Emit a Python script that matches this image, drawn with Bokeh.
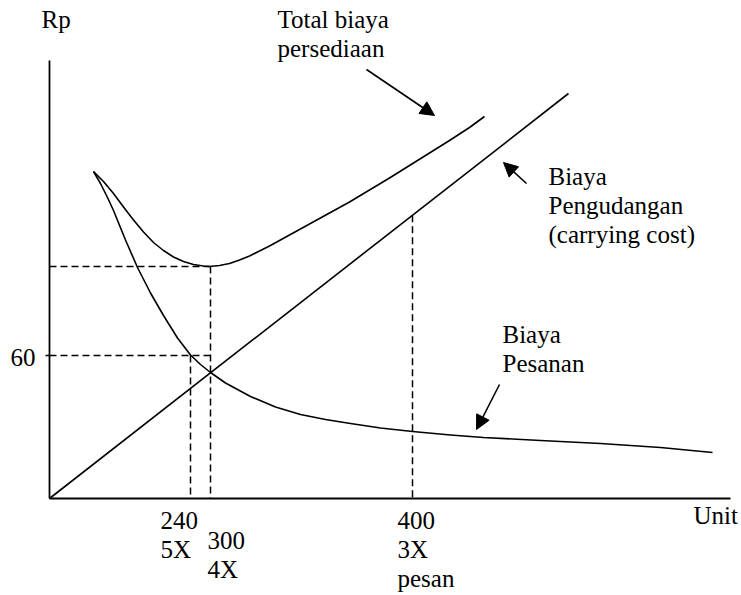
from bokeh.plotting import figure
from bokeh.models import Range1d, Arrow, NormalHead, ColumnDataSource
from bokeh.embed import file_html
from bokeh.resources import INLINE
from bokeh.core.properties import value

# ---------------- data (schematic diagram units: x = Unit, y = Rp) ----------------
carrying_x = [0, 519]
carrying_y = [0, 405]

ordering_x = [44, 51, 58, 64, 76, 88, 101, 114, 128, 141, 151, 161, 176, 201, 226,
              251, 276, 301, 331, 363, 401, 434, 491, 551, 611, 663]
ordering_y = [327, 315, 301, 288, 258.5, 231, 205.5, 183, 160.5, 143.5, 134, 126, 115.5,
              102, 91.5, 84, 79, 75, 70.5, 67, 63.5, 61, 58, 55, 51, 46]

total_x = [44, 54, 64, 74, 84, 94, 104, 114, 124, 134, 144, 154, 160, 170, 180, 190, 200,
           210, 220, 240, 260, 280, 300, 320, 340, 360, 380, 400, 420, 435]
total_y = [327, 317, 305, 291.5, 278.5, 266.5, 256, 248, 241.5, 237, 234, 232.5, 232, 233,
           235, 238.5, 242.5, 247.5, 252.5, 263.5, 274.5, 285.5, 296.5, 308.5, 320.5, 333,
           345.5, 358, 371, 382]

x_axis_max = 681
y_axis_max = 438

rp_tick = 143            # level labelled "60"
rp_tick_label = "60"
total_min_x = 161        # EOQ (300 / 4X)
total_min_y = 232

tick_x = [141, 161, 363]
tick_text = [["240", "5X"], ["300", "4X"], ["400", "3X", "pesan"]]

callout_lines = [["Total biaya", "persediaan"],
                 ["Biaya", "Pengudangan", "(carrying cost)"],
                 ["Biaya", "Pesanan"]]
callout_anchor = [(228, 471), (499, 314), (453, 156)]
# arrows: (x_start, y_start, x_end, y_end)
callout_arrows = [(317, 429, 385, 383), (477, 315, 454, 336), (450, 114, 427, 69)]

# ---------------- figure ----------------
FONT = value("Liberation Serif")
FS = "25px"
LH = 29
SHIFT = 8   # baseline correction for the text glyph

p = figure(width=741, height=595, x_range=Range1d(-49, 692), y_range=Range1d(-97, 498),
           output_backend="svg", toolbar_location=None, x_axis_type=None, y_axis_type=None,
           min_border=0, outline_line_color=None)
p.background_fill_color = "white"
p.border_fill_color = "white"

# axes
p.segment(x0=[0, 0], y0=[0, 0], x1=[x_axis_max, 0], y1=[0, y_axis_max],
          line_color="black", line_width=1.8)
# tick at 60
p.segment(x0=[-4], y0=[rp_tick], x1=[0], y1=[rp_tick], line_color="black", line_width=1.5)

# dashed guides
slope = carrying_y[1] / carrying_x[1]
dash_x0 = [0, total_min_x, 0, tick_x[0], tick_x[2]]
dash_y0 = [total_min_y, total_min_y, rp_tick, rp_tick, tick_x[2] * slope]
dash_x1 = [total_min_x, total_min_x, total_min_x, tick_x[0], tick_x[2]]
dash_y1 = [total_min_y, 0, rp_tick, 0, 0]
p.segment(x0=dash_x0, y0=dash_y0, x1=dash_x1, y1=dash_y1, line_color="black",
          line_width=1.5, line_dash="7 4")

# curves
p.line(carrying_x, carrying_y, line_color="black", line_width=1.6)
p.line(ordering_x, ordering_y, line_color="black", line_width=1.6, line_join="round")
p.line(total_x, total_y, line_color="black", line_width=1.6, line_join="round")

# arrows
for (xs, ys, xe, ye) in callout_arrows:
    p.add_layout(Arrow(end=NormalHead(size=14, fill_color="black", line_color="black",
                                      line_width=1),
                       x_start=xs, y_start=ys, x_end=xe, y_end=ye,
                       line_color="black", line_width=1.6))

# texts
tx, ty, tt, ta = [], [], [], []
for lines, (ax, ay) in zip(callout_lines, callout_anchor):
    for j, s in enumerate(lines):
        tx.append(ax); ty.append(ay - j * LH); tt.append(s); ta.append("left")
tick_dx = [-30, -3, -15]
tick_top = [30, 50, 30]
for xv, lines, dx, top in zip(tick_x, tick_text, tick_dx, tick_top):
    for j, s in enumerate(lines):
        tx.append(xv + dx); ty.append(-(top + j * LH)); tt.append(s); ta.append("left")
tx.append(-14); ty.append(rp_tick - 10); tt.append(rp_tick_label); ta.append("right")
tx.append(-8); ty.append(y_axis_max + 33); tt.append("Rp"); ta.append("left")
tx.append(x_axis_max - 37); ty.append(-25); tt.append("Unit"); ta.append("left")
ty = [v + SHIFT for v in ty]

src = ColumnDataSource(dict(x=tx, y=ty, text=tt, align=ta))
p.text(x="x", y="y", text="text", text_align="align", source=src, text_font=FONT,
       text_font_size=FS, text_color="black", text_baseline="alphabetic")

open("out.html", "w").write(file_html(p, INLINE))
